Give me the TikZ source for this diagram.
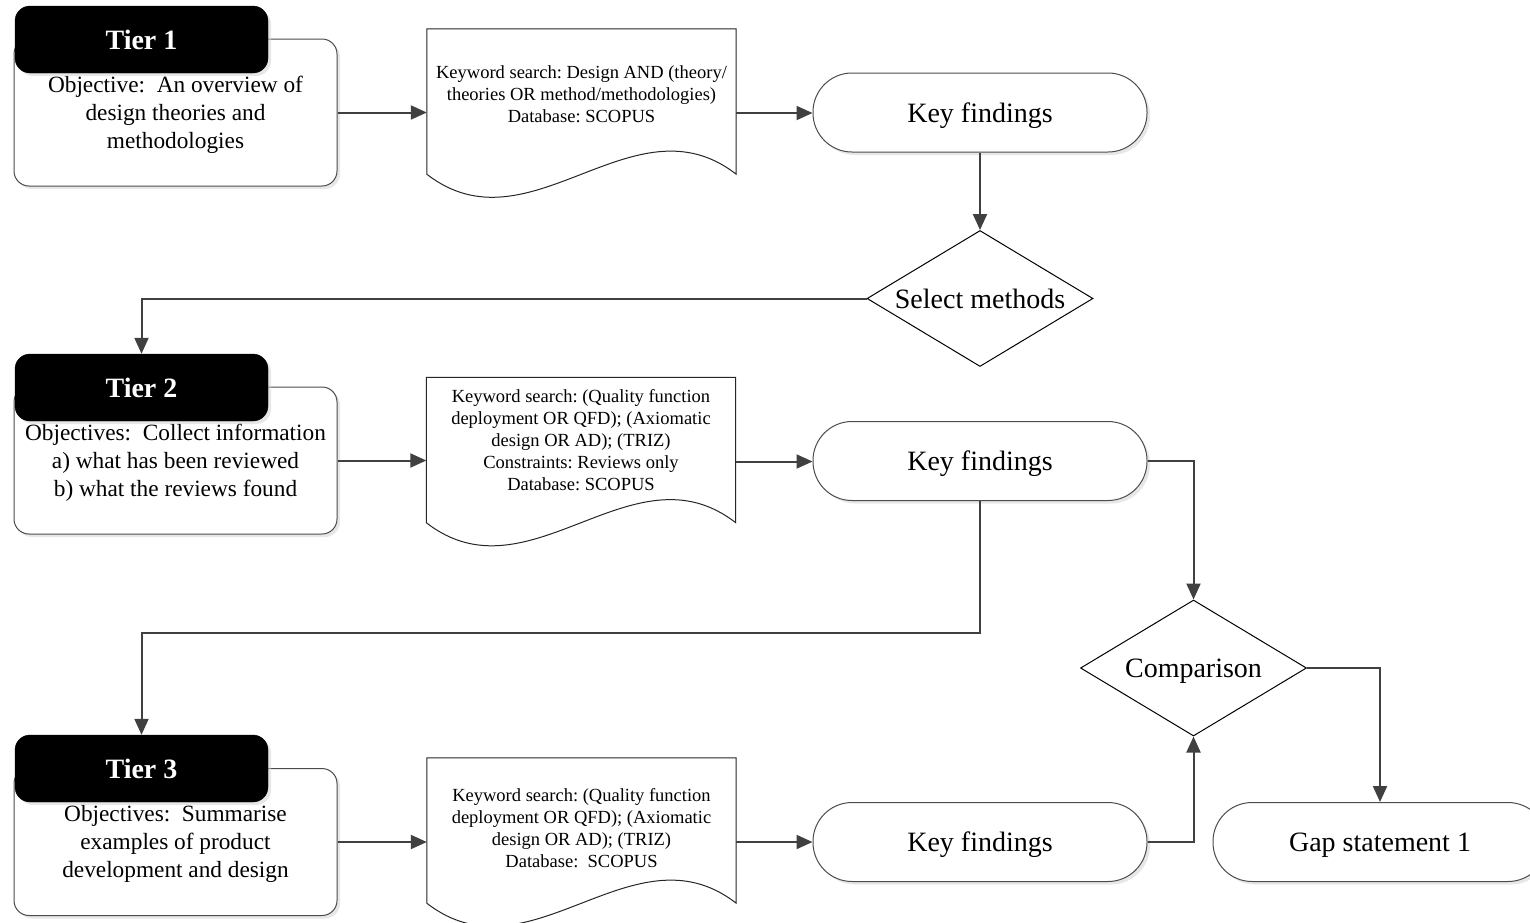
\documentclass[tikz,border=0pt]{standalone}
\usepackage{fontspec}
\setmainfont{Liberation Serif}
\usetikzlibrary{arrows.meta,shapes.geometric,calc,shadows}

% outline of a "document" flowchart symbol drawn round an empty node
\newcommand\docoutline[1]{%
  \draw[docline] (#1.north west) -- (#1.north east)
    -- ($(#1.south east)+(0,-23)$)
    .. controls ($(#1.south east)+(-103,-103)$) and ($(#1.south west)+(103,57)$)
    .. ($(#1.south west)+(0,-23)$) -- cycle;}

\tikzset{
  shade/.style={drop shadow={shadow xshift=3pt,shadow yshift=-3pt,fill=black!18}},
  tierbox/.style={draw=black!70,line width=1pt,fill=white,rounded corners=15pt,
    minimum width=323pt,minimum height=147pt,inner sep=0pt,shade},
  objtext/.style={align=center,inner sep=0pt,font=\fontsize{23.3}{28}\selectfont},
  tierhead/.style={draw=black,fill=black,rounded corners=15pt,
    minimum width=253pt,minimum height=67pt,inner sep=0pt,text=white,
    font=\fontsize{28}{32}\selectfont\bfseries,shade},
  docnode/.style={minimum width=309pt,minimum height=168pt,inner sep=0pt},
  docline/.style={draw=black!85,line width=1pt,fill=white},
  doctext/.style={align=center,inner sep=0pt,font=\fontsize{18.5}{22}\selectfont},
  terminal/.style={draw=black!70,line width=1pt,fill=white,rounded corners=39pt,
    minimum width=334pt,minimum height=79pt,inner sep=0pt,
    text height=22pt,text depth=3pt,
    font=\fontsize{28}{32}\selectfont,shade},
  decision/.style={diamond,draw=black,line width=1pt,fill=white,aspect=1.66,
    minimum width=226pt,minimum height=136pt,inner sep=0pt,
    text height=22pt,text depth=3pt,
    font=\fontsize{28}{32}\selectfont},
  conn/.style={draw=black!75,line width=2pt,
    -{Triangle[length=16pt,width=14pt]}},
}

\begin{document}
\frenchspacing
\begin{tikzpicture}[x=1pt,y=-1pt]
\useasboundingbox (0,0) rectangle (1530,922);
\fill[white] (0,0) rectangle (1530,922);

% Tier 1 row
\node[tierbox] (t1) at (175.5,112.5) {};
\node[objtext] (t1t) at ([yshift=-2pt]t1.center) {Objective:\ \ An overview of\\design theories and\\methodologies};
\node[tierhead] (h1) at (141.5,39.5) {Tier 1};
\node[docnode] (d1) at (581.5,113) {};
\docoutline{d1}
\node[doctext] (d1t) at ([yshift=19pt]d1.center) {Keyword search: Design AND (theory/\\theories OR method/methodologies)\\Database: SCOPUS};
\node[terminal] (k1) at (980,112.5) {Key findings};

\node[decision] (sel) at (980,298.5) {Select methods};

% Tier 2 row
\node[tierbox] (t2) at (175.5,460.5) {};
\node[objtext] (t2t) at ([yshift=-2pt]t2.center) {Objectives:\ \ Collect information\\a) what has been reviewed\\b) what the reviews found};
\node[tierhead] (h2) at (141.5,387.5) {Tier 2};
\node[docnode] (d2) at (581,461.5) {};
\docoutline{d2}
\node[doctext] (d2t) at ([yshift=21pt]d2.center) {Keyword search: (Quality function\\deployment OR QFD); (Axiomatic\\design OR AD); (TRIZ)\\Constraints: Reviews only\\Database: SCOPUS};
\node[terminal] (k2) at (980,461) {Key findings};

\node[decision] (cmp) at (1193.5,668) {Comparison};

% Tier 3 row
\node[tierbox] (t3) at (175.5,842) {};
\node[objtext] (t3t) at ([yshift=-2pt]t3.center) {Objectives:\ \ Summarise\\examples of product\\development and design};
\node[tierhead] (h3) at (141.5,768.5) {Tier 3};
\node[docnode] (d3) at (581.5,842) {};
\docoutline{d3}
\node[doctext] (d3t) at ([yshift=14pt]d3.center) {Keyword search: (Quality function\\deployment OR QFD); (Axiomatic\\design OR AD); (TRIZ)\\Database:\ \ SCOPUS};
\node[terminal] (k3) at (980,842) {Key findings};

\node[terminal] (gap) at (1380,842) {Gap statement 1};

\coordinate (split) at (0,633);

% connectors
\draw[conn] (t1.east) -- (t1.east -| d1.west);
\draw[conn] (d1.east) -- (d1.east -| k1.west);
\draw[conn] (k1.south) -- (sel.north);
\draw[conn] (sel.west) -| (h2.north);
\draw[conn] (t2.east) -- (t2.east -| d2.west);
\draw[conn] (d2.east) -- (d2.east -| k2.west);
\draw[conn] (k2.east) -| (cmp.north);
\draw[conn] (k2.south) -- (k2.south |- split) -| (h3.north);
\draw[conn] (t3.east) -- (t3.east -| d3.west);
\draw[conn] (d3.east) -- (d3.east -| k3.west);
\draw[conn] (k3.east) -| (cmp.south);
\draw[conn] (cmp.east) -| (gap.north);
\end{tikzpicture}
\end{document}
